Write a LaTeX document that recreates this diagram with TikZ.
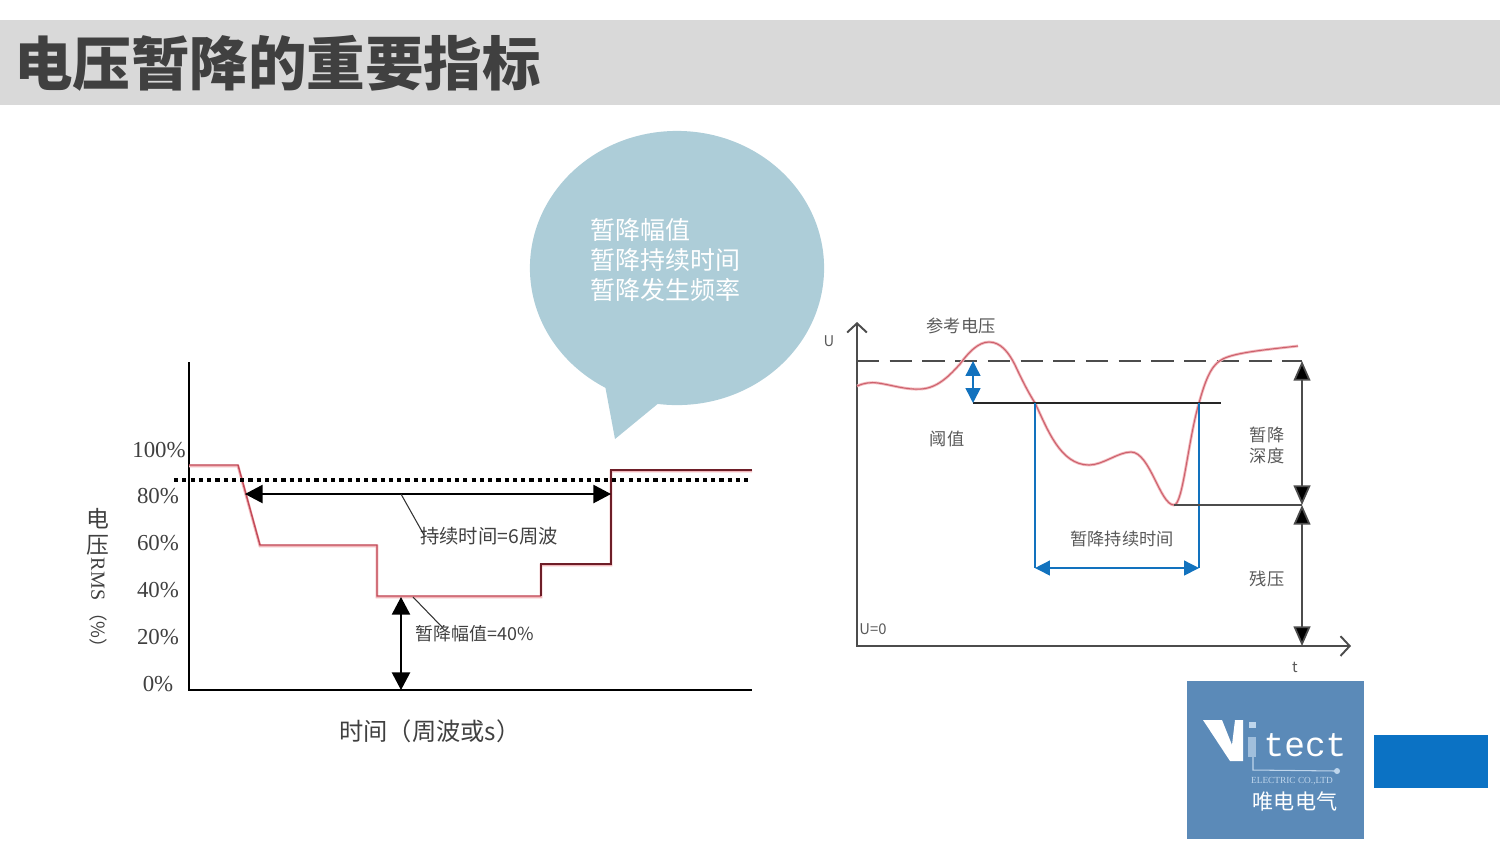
\documentclass[tikz,border=0pt]{standalone}
\usepackage{fontspec}
\setmainfont{Liberation Serif}
\newfontfamily\cjk{Noto Sans CJK SC}
\newfontfamily\mono{Liberation Mono}
\usetikzlibrary{arrows.meta,shapes.geometric}
\definecolor{bandgray}{HTML}{D9D9D9}
\definecolor{titlegray}{HTML}{404040}
\definecolor{bubbleblue}{HTML}{ADCDD8}
\definecolor{tracered}{HTML}{C24A58}
\definecolor{tracedark}{HTML}{6E1E28}
\definecolor{tracepink}{HTML}{F2B8BC}
\definecolor{markblue}{HTML}{1272BE}
\definecolor{logoblue}{HTML}{5B8AB8}
\definecolor{blockblue}{HTML}{0B72C4}
\definecolor{lightlogo}{HTML}{BFD6EC}
\newcommand{\sagcurve}{(857,386) .. controls (864,383) and (870,382) .. (878,383) .. controls (892,385) and (906,390) .. (921,389) .. controls (938,388) and (950,375) .. (960,364) .. controls (968,353) and (978,342) .. (989,342) .. controls (1001,342) and (1009,353) .. (1015,365) .. controls (1022,380) and (1028,392) .. (1035,403) .. controls (1047,428) and (1060,465) .. (1089,465) .. controls (1103,465) and (1118,452) .. (1131,452) .. controls (1150,452) and (1160,505) .. (1174,505) .. controls (1183,505) and (1188,440) .. (1199,403) .. controls (1204,385) and (1210,366) .. (1221,360) .. controls (1232,353) and (1262,350) .. (1298,346)}
\tikzset{
    ticklabel/.style={font=\fontsize{6.5}{7}\selectfont, text=black!75, inner sep=0pt},
    leftlabel/.style={font=\cjk\fontsize{5.5}{6}\selectfont, text=black!75, inner sep=0pt},
    rightlabel/.style={font=\cjk\fontsize{4.9}{6}\selectfont, text=black!65, inner sep=0pt},
    bigarrow/.style={{Triangle[length=5pt,width=5.2pt,fill=black]}-{Triangle[length=5pt,width=5.2pt,fill=black]}, line width=.35pt},
    tallarrow/.style={{Triangle[length=5.6pt,width=4.8pt,fill=black]}-{Triangle[length=5.6pt,width=4.8pt,fill=black]}, line width=.5pt, draw=black!70},
    bluearrow/.style={{Triangle[length=4.2pt,width=4.2pt]}-{Triangle[length=4.2pt,width=4.2pt]}, draw=markblue, line width=.4pt},
    grayaxis/.style={draw=black!70, line width=.55pt, {Straight Barb[length=2.6pt,width=5.6pt]}-{Straight Barb[length=2.6pt,width=5.6pt]}}
}
\begin{document}
\begin{tikzpicture}[x=0.01cm, y=-0.01cm]
    \useasboundingbox (0,0) rectangle (1500,844);

    \node (band) at (750,62.7) [fill=bandgray, minimum width=15cm, minimum height=.855cm, inner sep=0pt] {};
    \node (title) at (277.5,63) [font=\cjk\bfseries\fontsize{16.65}{18}\selectfont, text=titlegray, inner sep=0pt] {电压暂降的重要指标};

    \node (bubble) at (677,268) [ellipse, fill=bubbleblue, minimum width=2.94cm, minimum height=2.74cm, inner sep=0pt] {};
    \fill[bubbleblue] (604,380) -- (615,439) -- (660,402) -- cycle;
    \node (points) at (590,260) [anchor=west, align=left, text=white, font=\cjk\fontsize{7.1}{8.5}\selectfont, inner sep=0pt] {暂降幅值\\暂降持续时间\\暂降发生频率};

    \coordinate (ltop) at (189,362);
    \coordinate (lorigin) at (189,690);
    \coordinate (lright) at (752,690);
    \draw[line width=.35pt] (ltop) -- (lorigin) -- (lright);

    \draw[draw=tracepink, line width=.8pt] (189,466) -- (238,466) -- (260,546) -- (377,546) -- (377,597) -- (541,597) -- (541,565) -- (611,565) -- (611,471) -- (752,471);
    \draw[draw=tracered, line width=.4pt] (189,465) -- (238,465) -- (260,545) -- (377,545) -- (377,596) -- (541,596);
    \draw[draw=tracedark, line width=.45pt] (541,596) -- (541,564) -- (611,564) -- (611,470) -- (752,470);

    \coordinate (dotl) at (174,480);
    \coordinate (dotr) at (752,480);
    \draw[line width=1.15pt, dash pattern=on 1.2pt off 1.15pt] (dotl) -- (dotr);

    \coordinate (durl) at (245,494);
    \coordinate (durr) at (611,494);
    \coordinate (durm) at (401,494);
    \draw[bigarrow] (durl) -- (durr);
    \node (durlabel) at (489,536) [leftlabel] {持续时间=6周波};
    \draw[line width=.3pt, draw=black!80] (durm) -- (424,535);

    \coordinate (magt) at (401,597);
    \coordinate (magb) at (401,690);
    \draw[bigarrow] (magt) -- (magb);
    \node (maglabel) at (475,634) [leftlabel, font=\cjk\fontsize{5.1}{6}\selectfont] {暂降幅值=40\%};
    \draw[line width=.3pt, draw=black!80] (413,597) -- (442,627);

    \node (t100) at (159,450) [ticklabel] {100\%};
    \node (t80) at (158,496) [ticklabel] {80\%};
    \node (t60) at (158,543) [ticklabel] {60\%};
    \node (t40) at (158,590) [ticklabel] {40\%};
    \node (t20) at (158,637) [ticklabel] {20\%};
    \node (t0) at (158,684) [ticklabel] {0\%};

    \node (ylabela) at (98,519) [ticklabel, font=\cjk\fontsize{6.5}{7}\selectfont] {电};
    \node (ylabelb) at (98,545) [ticklabel, font=\cjk\fontsize{6.5}{7}\selectfont] {压};
    \node (ylabelc) at (98,579) [ticklabel, rotate=-90, font=\fontsize{5.7}{7}\selectfont] {RMS};
    \node (ylabeld) at (98,630) [ticklabel, rotate=-90, font=\cjk\fontsize{5.2}{6}\selectfont] {（\%）};
    \node (xlabel) at (430,731) [ticklabel, font=\cjk\fontsize{6.9}{7}\selectfont] {时间（周波或s）};

    \coordinate (rtop) at (857,322);
    \coordinate (rorigin) at (857,646);
    \coordinate (rright) at (1351,646);
    \draw[grayaxis] (rtop) -- (rorigin) -- (rright);

    \coordinate (refl) at (857,361);
    \coordinate (refr) at (1302,361);
    \draw[draw=black!70, line width=.55pt, dash pattern=on 6.3pt off 3pt] (refl) -- (refr);

    \draw[draw=tracepink, line width=.8pt] \sagcurve;
    \draw[draw=tracered!80!tracepink, line width=.3pt] \sagcurve;

    \coordinate (thrl) at (973,403);
    \coordinate (thrr) at (1221,403);
    \coordinate (thrt) at (973,361);
    \draw[line width=.55pt, draw=black!85] (thrl) -- (thrr);
    \draw[bluearrow] (thrt) -- (thrl);

    \coordinate (durtl) at (1035,403);
    \coordinate (durtr) at (1199,403);
    \coordinate (durbl) at (1035,568);
    \coordinate (durbr) at (1199,568);
    \draw[draw=markblue, line width=.35pt] (durtl) -- (durbl);
    \draw[draw=markblue, line width=.35pt] (durtr) -- (durbr);
    \draw[bluearrow] (durbl) -- (durbr);

    \coordinate (resl) at (1174,505);
    \coordinate (resm) at (1302,505);
    \coordinate (resb) at (1302,646);
    \draw[draw=black!70, line width=.45pt] (resl) -- (resm);
    \draw[tallarrow] (refr) -- (resm);
    \draw[tallarrow] (resm) -- (resb);

    \node (reflabel) at (961,326) [rightlabel] {参考电压};
    \node (ulabel) at (829,341) [rightlabel, font=\cjk\fontsize{4.2}{5}\selectfont] {U};
    \node (thrlabel) at (947,439) [rightlabel] {阈值};
    \node (deptha) at (1267,435) [rightlabel] {暂降};
    \node (depthb) at (1267,456) [rightlabel] {深度};
    \node (durtext) at (1122,539) [rightlabel] {暂降持续时间};
    \node (reslabel) at (1267,579) [rightlabel] {残压};
    \node (zerolabel) at (873,629) [rightlabel, font=\cjk\fontsize{4.2}{5}\selectfont] {U=0};
    \node (tlabel) at (1295,667) [rightlabel, font=\cjk\fontsize{4.2}{5}\selectfont] {t};

    \node (logo) at (1275.5,760) [fill=logoblue, minimum width=1.77cm, minimum height=1.58cm, inner sep=0pt] {};
    \fill[white] (1203,720) -- (1222,720) -- (1232,745) -- (1235,720) -- (1243,720) -- (1243,761) -- (1230,761) -- cycle;
    \fill[lightlogo] (1249,722) rectangle (1256,728);
    \fill[lightlogo!70!logoblue] (1248,737) rectangle (1256,757);
    \coordinate (wirea) at (1253,757);
    \coordinate (wireb) at (1253,770);
    \coordinate (wirec) at (1337,771);
    \draw[draw=lightlogo, line width=.3pt] (wirea) -- (wireb) -- (wirec);
    \fill[lightlogo] (wirec) circle (3);
    \node (tect) at (1305,745) [font=\mono\fontsize{9.8}{10}\selectfont, text=white, inner sep=0pt] {tect};
    \node (ltd) at (1292,781) [font=\fontsize{2.65}{3}\selectfont, text=lightlogo, inner sep=0pt] {ELECTRIC CO.,LTD};
    \node (logoname) at (1295,801) [font=\cjk\fontsize{6}{7}\selectfont, text=white, inner sep=0pt] {唯电电气};

    \node (block) at (1431,761.5) [fill=blockblue, minimum width=1.14cm, minimum height=.53cm, inner sep=0pt] {};
\end{tikzpicture}
\end{document}
